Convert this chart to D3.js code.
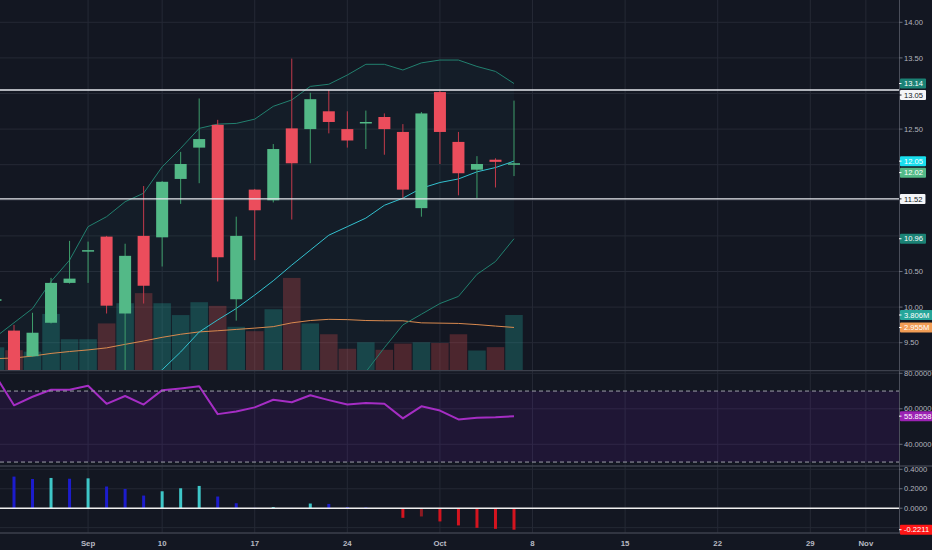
<!DOCTYPE html>
<html><head><meta charset="utf-8">
<script src="https://cdn.jsdelivr.net/npm/d3@7"></script>
<style>html,body{margin:0;padding:0;background:#131722;overflow:hidden}</style>
</head><body><svg id="c" width="932" height="550"></svg>
<script>
// ---------- DATA (index -1 .. 27, daily bars) ----------
const dates = ["2018-08-27","2018-08-28","2018-08-29","2018-08-30","2018-08-31","2018-09-04","2018-09-05","2018-09-06","2018-09-07","2018-09-10","2018-09-11","2018-09-12","2018-09-13","2018-09-14","2018-09-17","2018-09-18","2018-09-19","2018-09-20","2018-09-21","2018-09-24","2018-09-25","2018-09-26","2018-09-27","2018-09-28","2018-10-01","2018-10-02","2018-10-03","2018-10-04","2018-10-05"];
const openV  = [10.09,9.67,9.31,9.78,10.34,10.79,10.99,9.91,11.00,10.98,11.80,12.24,12.56,10.11,11.65,11.50,12.51,12.50,12.75,12.50,12.59,12.67,12.46,11.39,13.02,12.32,11.93,12.07,12.01];
const highV  = [10.20,9.75,9.92,10.41,10.93,10.92,11.00,10.89,11.70,11.77,12.18,12.93,12.63,11.27,11.66,12.29,13.49,13.01,13.05,12.75,12.76,12.72,12.57,12.74,13.04,12.46,12.12,12.09,12.90];
const lowV   = [9.95,8.90,9.30,9.77,10.33,10.34,9.91,9.05,10.05,10.57,11.45,11.74,10.36,9.81,10.66,11.47,11.23,12.02,12.44,12.24,12.22,12.14,11.53,11.27,12.01,11.57,11.53,11.68,11.84];
const closeV = [10.11,9.05,9.64,10.34,10.40,10.80,10.02,10.72,10.30,11.76,12.01,12.36,10.70,11.00,11.36,12.22,12.02,12.92,12.60,12.34,12.60,12.50,11.65,12.72,12.46,11.88,12.01,12.04,12.02];
const volumeM = [1.60,1.40,1.30,3.88,2.15,2.15,3.23,4.61,5.30,4.61,3.80,4.68,4.43,3.00,2.70,4.20,6.34,3.23,2.49,1.50,1.94,1.43,1.85,1.94,1.89,2.49,1.38,1.61,3.806];
const volumeMA = [0.82,0.87,1.00,1.18,1.31,1.42,1.56,1.80,2.03,2.28,2.49,2.65,2.73,2.82,2.91,3.01,3.27,3.43,3.51,3.49,3.43,3.41,3.41,3.27,3.25,3.23,3.15,3.05,2.955];
const bbUpper = [9.58,9.78,9.98,10.36,10.66,11.13,11.27,11.48,11.60,11.97,12.23,12.51,12.57,12.58,12.64,12.82,12.91,13.10,13.13,13.26,13.41,13.41,13.33,13.43,13.47,13.47,13.38,13.31,13.14];
const bbBasis = [8.10,8.15,8.20,8.30,8.40,8.50,8.60,8.75,8.90,9.12,9.37,9.65,9.82,9.98,10.17,10.37,10.59,10.80,11.01,11.13,11.25,11.43,11.53,11.67,11.75,11.80,11.90,11.96,12.05];
const bbLower = [6.60,6.50,6.40,6.20,6.10,5.90,5.90,6.00,6.20,6.27,6.51,6.79,7.07,7.38,7.70,7.92,8.27,8.50,8.89,9.00,9.09,9.43,9.75,9.90,10.05,10.15,10.46,10.64,10.96];
const rsiV = [78.6,61.97,66.8,70.7,70.7,73.0,62.8,67.2,62.4,70.5,71.5,72.7,57.0,58.5,60.8,65.1,63.7,67.6,64.9,62.4,63.3,62.8,54.6,61.4,59.0,54.0,55.0,55.2,55.8558];
const macdHist = [0.340,0.325,0.300,0.311,0.303,0.307,0.223,0.198,0.130,0.174,0.205,0.229,0.120,0.051,0.004,0.012,0.003,0.048,0.044,0.012,0.008,0.001,-0.099,-0.085,-0.136,-0.177,-0.202,-0.212,-0.2211];
const hLines = [13.05, 11.52];
const priceTicks = [9.5,10,10.5,11,11.5,12,12.5,13,13.5,14];
const rsiTicks = [80,60,40];
const rsiBands = [70,30];
const macdTicks = [0.4,0.2,0,-0.2];
const dateTickLabels = ["Sep","10","17","24","Oct","8","15","22","29","Nov"];
const dateTickIndex  = [4,8,13,18,23,28,33,38,43,46];

// ---------- LAYOUT ----------
const W=932, H=550, PR=899;
const svg = d3.select('#c');
const FONT = "'Liberation Sans', Arial, sans-serif";
const idx = dates.map((d,i)=>i-1);
const x = d3.scaleLinear().domain([0,27]).range([14,514]);
const step = x(1)-x(0);
const yP = d3.scaleLinear().domain([14,9.5]).range([22.3,342.7]);
const yV = d3.scaleLinear().domain([0,3.806]).range([370.7,315]);
const yR = d3.scaleLinear().domain([80,40]).range([373.3,444.3]);
const yM = d3.scaleLinear().domain([0.4,0]).range([469.3,508.2]);
const panes = {main:[0,370.7], rsi:[370.7,466], macd:[466,533]};

const defs = svg.append('defs');
Object.entries(panes).forEach(([k,[t,b]])=>{
  defs.append('clipPath').attr('id','clip-'+k).append('rect').attr('x',0).attr('y',t).attr('width',PR).attr('height',b-t);
});
svg.append('rect').attr('width',W).attr('height',H).attr('fill','#131722');

const GRID='#252935';
const grid = svg.append('g');
grid.selectAll('.hp').data(priceTicks).join('line').attr('x1',0).attr('x2',PR)
  .attr('y1',d=>yP(d)).attr('y2',d=>yP(d)).attr('stroke',GRID);
grid.selectAll('.hr').data(rsiTicks).join('line').attr('x1',0).attr('x2',PR)
  .attr('y1',d=>yR(d)).attr('y2',d=>yR(d)).attr('stroke',GRID);
grid.selectAll('.hm').data(macdTicks).join('line').attr('x1',0).attr('x2',PR)
  .attr('y1',d=>yM(d)).attr('y2',d=>yM(d)).attr('stroke',GRID);
grid.selectAll('.v').data(dateTickIndex).join('line').attr('x1',d=>x(d)).attr('x2',d=>x(d))
  .attr('y1',0).attr('y2',533).attr('stroke',GRID);

// ---------- MAIN PANE ----------
const main = svg.append('g').attr('clip-path','url(#clip-main)');
const rows = idx.map((i,k)=>({i,o:openV[k],h:highV[k],l:lowV[k],c:closeV[k],v:volumeM[k],vma:volumeMA[k],u:bbUpper[k],m:bbBasis[k],lo:bbLower[k]}));

main.append('path').datum(rows).attr('fill','rgba(38,166,154,0.05)')
  .attr('d',d3.area().x(d=>x(d.i)).y0(d=>yP(d.lo)).y1(d=>yP(d.u)));
main.selectAll('.vol').data(rows).join('rect')
  .attr('x',d=>x(d.i)-step/2+0.5).attr('width',step-1)
  .attr('y',d=>yV(d.v)).attr('height',d=>yV(0)-yV(d.v))
  .attr('fill',d=>d.c>=d.o?'rgba(38,166,154,0.3)':'rgba(239,83,80,0.26)');
main.append('path').datum(rows).attr('fill','none').attr('stroke','#d98a4f').attr('stroke-width',1)
  .attr('d',d3.line().x(d=>x(d.i)).y(d=>yV(d.vma)));
main.append('path').datum(rows).attr('fill','none').attr('stroke','#22806f').attr('stroke-width',1)
  .attr('d',d3.line().x(d=>x(d.i)).y(d=>yP(d.u)));
main.append('path').datum(rows).attr('fill','none').attr('stroke','#22806f').attr('stroke-width',1)
  .attr('d',d3.line().x(d=>x(d.i)).y(d=>yP(d.lo)));
main.append('path').datum(rows).attr('fill','none').attr('stroke','#33c1cf').attr('stroke-width',1)
  .attr('d',d3.line().x(d=>x(d.i)).y(d=>yP(d.m)));
const UP='#53b987', DN='#eb4d5c';
const cg = main.selectAll('.cdl').data(rows).join('g');
cg.append('line').attr('x1',d=>x(d.i)).attr('x2',d=>x(d.i))
  .attr('y1',d=>yP(d.h)).attr('y2',d=>yP(d.l))
  .attr('stroke',d=>d.c>=d.o?'#3e9e6b':'#c23a4b').attr('stroke-width',1);
cg.append('rect').attr('x',d=>x(d.i)-6).attr('width',12)
  .attr('y',d=>yP(Math.max(d.o,d.c)))
  .attr('height',d=>Math.max(1.5,Math.abs(yP(d.o)-yP(d.c))))
  .attr('fill',d=>d.c>=d.o?UP:DN);
main.selectAll('.hl').data(hLines).join('line').attr('x1',0).attr('x2',PR)
  .attr('y1',d=>yP(d)).attr('y2',d=>yP(d)).attr('stroke','#e6e8ee').attr('stroke-width',1.4);

// ---------- RSI PANE ----------
const rsiG = svg.append('g').attr('clip-path','url(#clip-rsi)');
rsiG.append('rect').attr('x',0).attr('width',PR).attr('y',yR(rsiBands[0])).attr('height',yR(rsiBands[1])-yR(rsiBands[0]))
  .attr('fill','rgba(153,21,255,0.09)');
svg.selectAll('.rb').data(rsiBands).join('line').attr('x1',0).attr('x2',PR)
  .attr('y1',d=>yR(d)).attr('y2',d=>yR(d)).attr('stroke','#9ea1aa').attr('stroke-dasharray','4 3').attr('stroke-width',1);
rsiG.append('path').datum(rows.map((r,k)=>({i:r.i,v:rsiV[k]}))).attr('fill','none')
  .attr('stroke','#a52dc4').attr('stroke-width',2).attr('stroke-linejoin','round')
  .attr('d',d3.line().x(d=>x(d.i)).y(d=>yR(d.v)));

// ---------- MACD PANE ----------
const macdG = svg.append('g').attr('clip-path','url(#clip-macd)');
const hist = rows.map((r,k)=>({i:r.i,v:macdHist[k],p:k>0?macdHist[k-1]:Infinity}));
macdG.selectAll('.mh').data(hist).join('rect')
  .attr('x',d=>x(d.i)-1.5).attr('width',3)
  .attr('y',d=>Math.min(yM(d.v),yM(0))).attr('height',d=>Math.abs(yM(d.v)-yM(0)))
  .attr('fill',d=>d.v>=0?(d.v>d.p?'#3ec6c8':'#1c1ccc'):(d.v<d.p?'#d4141f':'#8c1a22'));
svg.append('line').attr('x1',0).attr('x2',PR).attr('y1',yM(0)).attr('y2',yM(0)).attr('stroke','#f0f0f0').attr('stroke-width',1.6);

svg.selectAll('.sep').data([panes.main[1],panes.rsi[1],panes.macd[1]]).join('line')
  .attr('x1',0).attr('x2',W).attr('y1',d=>d).attr('y2',d=>d).attr('stroke','#3c404c').attr('stroke-width',1.3);
svg.append('line').attr('x1',PR+0.5).attr('x2',PR+0.5).attr('y1',0).attr('y2',533).attr('stroke','#4a4e5a');

// ---------- BADGES ----------
const badgeDefs = [
  {pane:'main', y:yP(bbUpper[28]), t:bbUpper[28].toFixed(2), bg:'#1b8275', fg:'#ffffff'},
  {pane:'main', y:yP(hLines[0]), t:hLines[0].toFixed(2), bg:'#f4f5f8', fg:'#131722'},
  {pane:'main', y:yP(bbBasis[28]), t:bbBasis[28].toFixed(2), bg:'#19dfee', fg:'#ffffff'},
  {pane:'main', y:yP(closeV[28]), t:closeV[28].toFixed(2), bg:'#53b987', fg:'#ffffff'},
  {pane:'main', y:yP(hLines[1]), t:hLines[1].toFixed(2), bg:'#f4f5f8', fg:'#131722'},
  {pane:'main', y:yP(bbLower[28]), t:bbLower[28].toFixed(2), bg:'#1b8275', fg:'#ffffff'},
  {pane:'main', y:yV(volumeM[28]), t:volumeM[28].toFixed(3)+'M', bg:'#26a69a', fg:'#ffffff'},
  {pane:'main', y:yV(volumeMA[28]), t:volumeMA[28].toFixed(3)+'M', bg:'#f29d55', fg:'#ffffff'},
  {pane:'rsi', y:yR(rsiV[28]), t:rsiV[28].toFixed(4), bg:'#9c22b4', fg:'#ffffff'},
  {pane:'macd', y:yM(macdHist[28]), t:macdHist[28].toFixed(4), bg:'#ff1616', fg:'#ffffff'}
];
const BH=10;
const sorted = badgeDefs.slice().sort((a,b)=>a.y-b.y);
let prev=-Infinity;
sorted.forEach(b=>{ b.yy=Math.max(b.y, prev+BH+1.5); prev=b.yy; });

const axis = svg.append('g').attr('font-family',FONT).attr('font-size',7.6).attr('fill','#b2b5be');
function axisTicks(vals, sc, fmt, pane){
  vals.forEach(v=>{
    const yy=sc(v);
    const hidden = badgeDefs.some(b=>b.pane===pane && Math.abs(b.yy-yy)<6);
    if(hidden) return;
    axis.append('line').attr('x1',PR).attr('x2',PR+3.5).attr('y1',yy).attr('y2',yy).attr('stroke','#6a6e7a');
    axis.append('text').attr('x',904).attr('y',yy).attr('dy','0.35em').text(fmt(v));
  });
}
axisTicks(priceTicks, yP, v=>v.toFixed(2), 'main');
axisTicks(rsiTicks, yR, v=>v.toFixed(4), 'rsi');
axisTicks(macdTicks, yM, v=>v.toFixed(4), 'macd');

const bg = svg.append('g').attr('font-family',FONT).attr('font-size',7.6);
badgeDefs.forEach(b=>{
  const g = bg.append('g');
  const r = g.append('rect').attr('x',PR+1).attr('y',b.yy-BH/2).attr('height',BH).attr('fill',b.bg).attr('rx',1);
  const t = g.append('text').attr('x',904).attr('y',b.yy).attr('dy','0.35em').attr('fill',b.fg).text(b.t);
  const w = t.node().getComputedTextLength();
  r.attr('width', w+7);
  g.append('line').attr('x1',PR).attr('x2',PR+2.5).attr('y1',b.yy).attr('y2',b.yy).attr('stroke',b.fg);
});

svg.append('g').attr('font-family',FONT).attr('font-size',7.8).attr('font-weight','bold').attr('fill','#b8bbc4')
  .selectAll('text').data(dateTickIndex).join('text')
  .attr('x',d=>x(d)).attr('y',545.5).attr('text-anchor','middle')
  .text((d,k)=>dateTickLabels[k]);
</script>
</body></html>
